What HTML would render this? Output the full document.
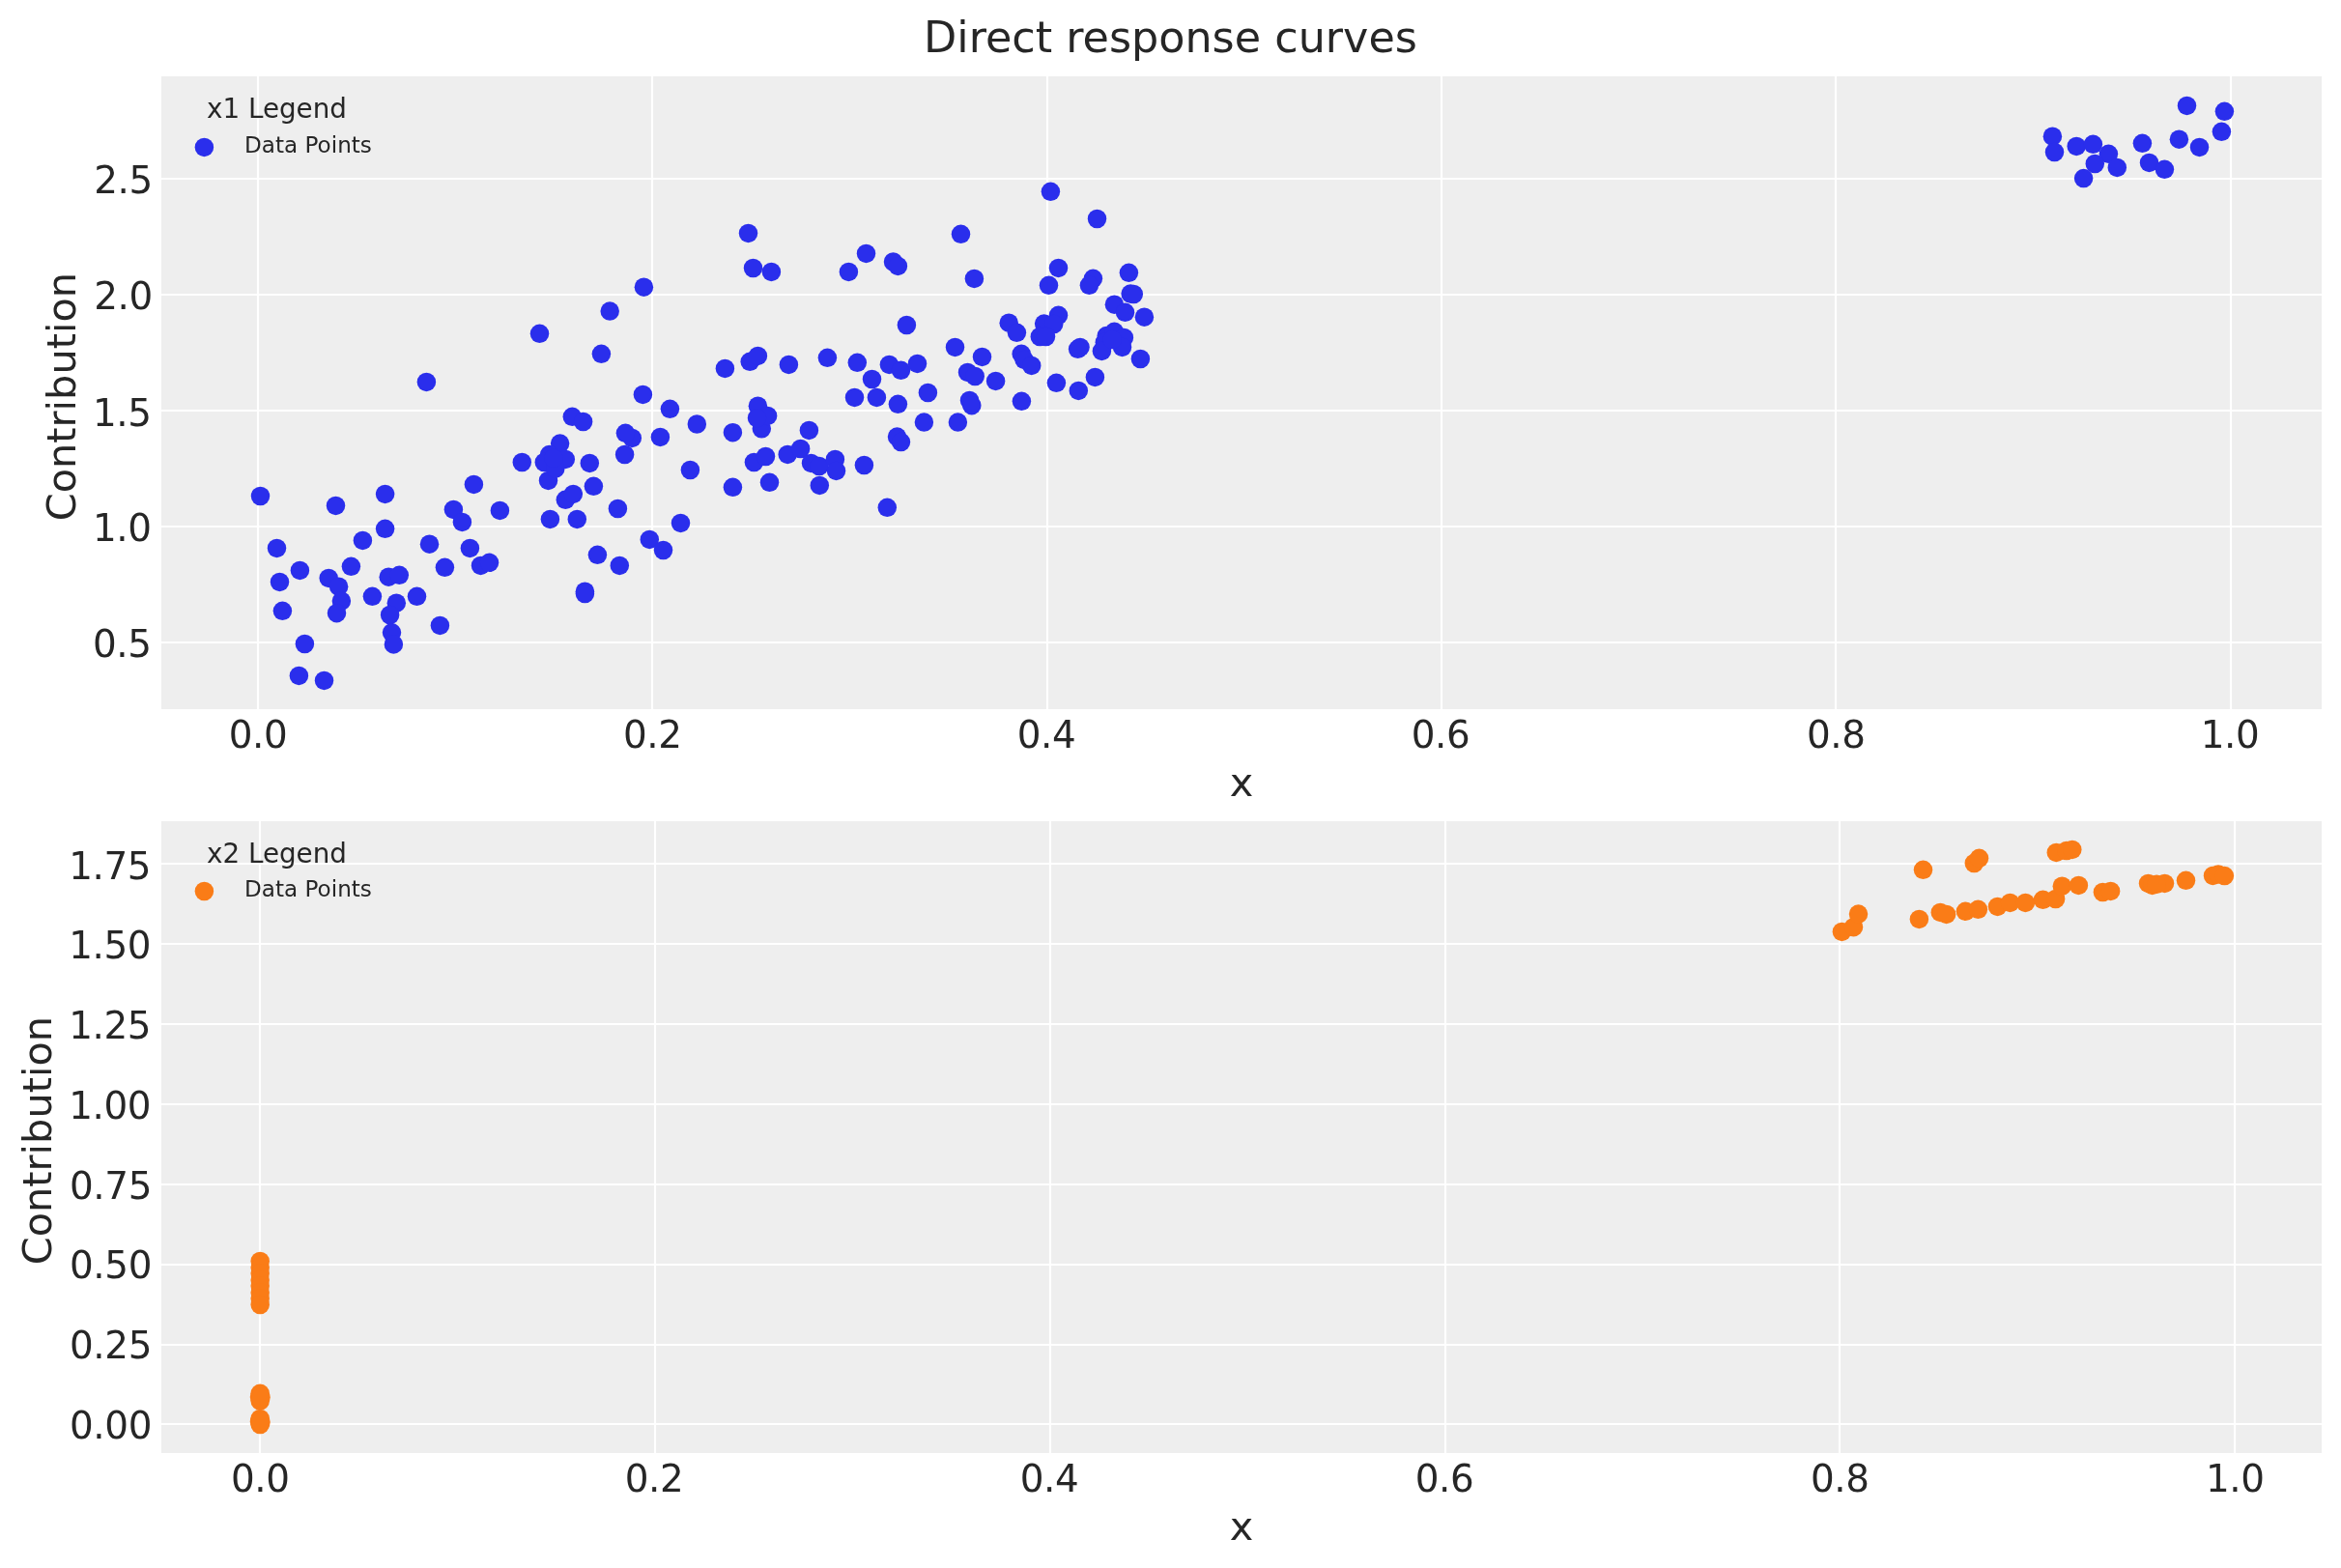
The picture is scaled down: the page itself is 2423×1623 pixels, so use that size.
<!DOCTYPE html>
<html lang="en"><head><meta charset="utf-8"><title>Direct response curves</title>
<style>html,body{margin:0;padding:0;background:#fff}svg{display:block;will-change:transform}text{font-family:"DejaVu Sans","Liberation Sans",sans-serif;fill:#262626}.t{font-size:38.89px;letter-spacing:-0.4px}.l{font-size:41.45px}.g{stroke:#fff;stroke-width:2.2;fill:none}</style></head><body>
<svg width="2423" height="1623" viewBox="0 0 2423 1623">
<rect width="2423" height="1623" fill="#fff"/>
<text x="1211.5" y="54.0" text-anchor="middle" font-size="44.44">Direct response curves</text>
<rect x="167" y="79" width="2236" height="655" fill="#eeeeee"/>
<path class="g" d="M267 79V734M675 79V734M1084 79V734M1492 79V734M1900 79V734M2309 79V734M167 665H2403M167 545H2403M167 425H2403M167 305H2403M167 185H2403"/>
<g fill="#2a2eec">
<circle cx="269.5" cy="513.5" r="9.75"/>
<circle cx="347.5" cy="523.4" r="9.75"/>
<circle cx="398.6" cy="511.4" r="9.75"/>
<circle cx="398.6" cy="547.3" r="9.75"/>
<circle cx="375.4" cy="559.4" r="9.75"/>
<circle cx="286.5" cy="567.4" r="9.75"/>
<circle cx="310.4" cy="590.4" r="9.75"/>
<circle cx="289.5" cy="602.4" r="9.75"/>
<circle cx="292.4" cy="632.3" r="9.75"/>
<circle cx="363.4" cy="586.3" r="9.75"/>
<circle cx="340.2" cy="598.4" r="9.75"/>
<circle cx="350.6" cy="607.2" r="9.75"/>
<circle cx="353.4" cy="622.1" r="9.75"/>
<circle cx="348.5" cy="634.7" r="9.75"/>
<circle cx="385.4" cy="617.3" r="9.75"/>
<circle cx="402.2" cy="597.2" r="9.75"/>
<circle cx="413.3" cy="595.3" r="9.75"/>
<circle cx="410.3" cy="624.2" r="9.75"/>
<circle cx="403.6" cy="636.5" r="9.75"/>
<circle cx="405.5" cy="654.8" r="9.75"/>
<circle cx="407.4" cy="666.9" r="9.75"/>
<circle cx="431.5" cy="617.3" r="9.75"/>
<circle cx="444.5" cy="563.2" r="9.75"/>
<circle cx="460.4" cy="587.3" r="9.75"/>
<circle cx="455.4" cy="647.4" r="9.75"/>
<circle cx="469.4" cy="527.4" r="9.75"/>
<circle cx="478.4" cy="540.4" r="9.75"/>
<circle cx="486.4" cy="567.4" r="9.75"/>
<circle cx="497.5" cy="585.4" r="9.75"/>
<circle cx="506.5" cy="582.3" r="9.75"/>
<circle cx="490.4" cy="501.4" r="9.75"/>
<circle cx="517.4" cy="528.4" r="9.75"/>
<circle cx="540.3" cy="478.5" r="9.75"/>
<circle cx="569.4" cy="537.4" r="9.75"/>
<circle cx="597.3" cy="537.4" r="9.75"/>
<circle cx="585.3" cy="517.3" r="9.75"/>
<circle cx="593.3" cy="511.4" r="9.75"/>
<circle cx="614.4" cy="503.3" r="9.75"/>
<circle cx="610.3" cy="479.4" r="9.75"/>
<circle cx="567.5" cy="497.4" r="9.75"/>
<circle cx="579.6" cy="459.1" r="9.75"/>
<circle cx="568.6" cy="470.6" r="9.75"/>
<circle cx="563.3" cy="478.5" r="9.75"/>
<circle cx="585.3" cy="475.4" r="9.75"/>
<circle cx="574.8" cy="485.0" r="9.75"/>
<circle cx="618.4" cy="574.3" r="9.75"/>
<circle cx="605.4" cy="612.2" r="9.75"/>
<circle cx="605.4" cy="614.5" r="9.75"/>
<circle cx="315.4" cy="666.5" r="9.75"/>
<circle cx="309.4" cy="699.4" r="9.75"/>
<circle cx="335.5" cy="704.4" r="9.75"/>
<circle cx="654.3" cy="453.4" r="9.75"/>
<circle cx="683.4" cy="452.4" r="9.75"/>
<circle cx="758.4" cy="447.7" r="9.75"/>
<circle cx="788.3" cy="443.8" r="9.75"/>
<circle cx="837.4" cy="445.4" r="9.75"/>
<circle cx="714.4" cy="486.5" r="9.75"/>
<circle cx="780.4" cy="478.5" r="9.75"/>
<circle cx="792.5" cy="472.5" r="9.75"/>
<circle cx="815.2" cy="470.4" r="9.75"/>
<circle cx="828.6" cy="464.5" r="9.75"/>
<circle cx="839.5" cy="479.4" r="9.75"/>
<circle cx="847.9" cy="482.5" r="9.75"/>
<circle cx="864.4" cy="475.4" r="9.75"/>
<circle cx="865.5" cy="487.4" r="9.75"/>
<circle cx="894.4" cy="481.5" r="9.75"/>
<circle cx="758.4" cy="504.3" r="9.75"/>
<circle cx="796.5" cy="499.3" r="9.75"/>
<circle cx="848.3" cy="502.4" r="9.75"/>
<circle cx="918.3" cy="525.3" r="9.75"/>
<circle cx="928.5" cy="452.1" r="9.75"/>
<circle cx="932.5" cy="457.6" r="9.75"/>
<circle cx="639.4" cy="526.5" r="9.75"/>
<circle cx="704.5" cy="541.4" r="9.75"/>
<circle cx="672.3" cy="558.4" r="9.75"/>
<circle cx="686.5" cy="569.5" r="9.75"/>
<circle cx="641.3" cy="585.4" r="9.75"/>
<circle cx="441.4" cy="395.4" r="9.75"/>
<circle cx="558.5" cy="345.3" r="9.75"/>
<circle cx="622.4" cy="366.3" r="9.75"/>
<circle cx="631.2" cy="322.1" r="9.75"/>
<circle cx="774.5" cy="241.4" r="9.75"/>
<circle cx="779.5" cy="277.5" r="9.75"/>
<circle cx="798.4" cy="281.4" r="9.75"/>
<circle cx="666.4" cy="297.2" r="9.75"/>
<circle cx="878.4" cy="281.4" r="9.75"/>
<circle cx="896.5" cy="262.4" r="9.75"/>
<circle cx="924.5" cy="271.0" r="9.75"/>
<circle cx="929.4" cy="275.4" r="9.75"/>
<circle cx="994.5" cy="242.3" r="9.75"/>
<circle cx="1008.4" cy="288.4" r="9.75"/>
<circle cx="938.4" cy="336.5" r="9.75"/>
<circle cx="750.4" cy="381.4" r="9.75"/>
<circle cx="776.2" cy="374.3" r="9.75"/>
<circle cx="784.4" cy="368.4" r="9.75"/>
<circle cx="816.4" cy="377.4" r="9.75"/>
<circle cx="856.4" cy="370.3" r="9.75"/>
<circle cx="887.3" cy="375.3" r="9.75"/>
<circle cx="902.5" cy="392.5" r="9.75"/>
<circle cx="920.4" cy="377.4" r="9.75"/>
<circle cx="932.5" cy="383.3" r="9.75"/>
<circle cx="949.5" cy="376.4" r="9.75"/>
<circle cx="988.5" cy="359.4" r="9.75"/>
<circle cx="1016.5" cy="369.4" r="9.75"/>
<circle cx="1001.5" cy="385.4" r="9.75"/>
<circle cx="1009.2" cy="389.5" r="9.75"/>
<circle cx="1030.6" cy="394.4" r="9.75"/>
<circle cx="665.4" cy="408.4" r="9.75"/>
<circle cx="693.4" cy="423.3" r="9.75"/>
<circle cx="884.5" cy="411.4" r="9.75"/>
<circle cx="907.4" cy="411.4" r="9.75"/>
<circle cx="929.4" cy="418.3" r="9.75"/>
<circle cx="960.4" cy="406.5" r="9.75"/>
<circle cx="1003.5" cy="414.5" r="9.75"/>
<circle cx="1005.8" cy="419.7" r="9.75"/>
<circle cx="784.4" cy="420.2" r="9.75"/>
<circle cx="794.6" cy="430.4" r="9.75"/>
<circle cx="783.5" cy="432.7" r="9.75"/>
<circle cx="721.3" cy="439.0" r="9.75"/>
<circle cx="956.4" cy="437.1" r="9.75"/>
<circle cx="991.4" cy="437.1" r="9.75"/>
<circle cx="1087.4" cy="198.3" r="9.75"/>
<circle cx="1135.5" cy="226.5" r="9.75"/>
<circle cx="1095.5" cy="277.4" r="9.75"/>
<circle cx="1085.5" cy="295.3" r="9.75"/>
<circle cx="1131.4" cy="288.3" r="9.75"/>
<circle cx="1127.4" cy="295.3" r="9.75"/>
<circle cx="1168.4" cy="282.3" r="9.75"/>
<circle cx="1170.1" cy="304.1" r="9.75"/>
<circle cx="1173.3" cy="304.5" r="9.75"/>
<circle cx="1153.4" cy="315.2" r="9.75"/>
<circle cx="1164.5" cy="323.3" r="9.75"/>
<circle cx="1184.4" cy="328.2" r="9.75"/>
<circle cx="1095.5" cy="326.3" r="9.75"/>
<circle cx="1080.6" cy="335.1" r="9.75"/>
<circle cx="1090.7" cy="335.5" r="9.75"/>
<circle cx="1076.3" cy="348.5" r="9.75"/>
<circle cx="1082.5" cy="348.5" r="9.75"/>
<circle cx="1044.2" cy="334.2" r="9.75"/>
<circle cx="1052.4" cy="344.3" r="9.75"/>
<circle cx="1057.2" cy="366.3" r="9.75"/>
<circle cx="1060.1" cy="372.4" r="9.75"/>
<circle cx="1067.7" cy="378.4" r="9.75"/>
<circle cx="1118.0" cy="359.4" r="9.75"/>
<circle cx="1115.6" cy="361.3" r="9.75"/>
<circle cx="1145.2" cy="347.6" r="9.75"/>
<circle cx="1153.4" cy="343.3" r="9.75"/>
<circle cx="1163.4" cy="349.5" r="9.75"/>
<circle cx="1143.3" cy="354.3" r="9.75"/>
<circle cx="1140.4" cy="363.4" r="9.75"/>
<circle cx="1161.5" cy="359.4" r="9.75"/>
<circle cx="1180.4" cy="371.5" r="9.75"/>
<circle cx="1133.4" cy="390.4" r="9.75"/>
<circle cx="1093.4" cy="396.3" r="9.75"/>
<circle cx="1116.3" cy="404.4" r="9.75"/>
<circle cx="1057.4" cy="415.3" r="9.75"/>
<circle cx="647.4" cy="448.3" r="9.75"/>
<circle cx="646.6" cy="470.5" r="9.75"/>
<circle cx="592.3" cy="431.3" r="9.75"/>
<circle cx="603.6" cy="436.5" r="9.75"/>
<circle cx="573.0" cy="474.3" r="9.75"/>
<circle cx="1151.2" cy="351.6" r="9.75"/>
<circle cx="2124.4" cy="141.2" r="9.75"/>
<circle cx="2126.5" cy="157.5" r="9.75"/>
<circle cx="2149.2" cy="151.4" r="9.75"/>
<circle cx="2166.4" cy="149.3" r="9.75"/>
<circle cx="2182.4" cy="159.3" r="9.75"/>
<circle cx="2168.3" cy="169.5" r="9.75"/>
<circle cx="2191.3" cy="173.4" r="9.75"/>
<circle cx="2156.6" cy="184.6" r="9.75"/>
<circle cx="2217.4" cy="148.3" r="9.75"/>
<circle cx="2224.5" cy="168.4" r="9.75"/>
<circle cx="2240.4" cy="175.3" r="9.75"/>
<circle cx="2255.4" cy="144.2" r="9.75"/>
<circle cx="2276.5" cy="152.4" r="9.75"/>
<circle cx="2263.5" cy="109.4" r="9.75"/>
<circle cx="2302.4" cy="115.3" r="9.75"/>
<circle cx="2299.4" cy="136.3" r="9.75"/>
</g>
<text x="214.0" y="122.1" font-size="27.78">x1 Legend</text>
<circle cx="211.4" cy="152.4" r="9.75" fill="#2a2eec"/>
<text x="253.0" y="158.0" font-size="23.1">Data Points</text>
<g class="t" text-anchor="end">
<text x="156.5" y="680.0">0.5</text>
<text x="156.6" y="560.0">1.0</text>
<text x="156.6" y="441.0">1.5</text>
<text x="157.9" y="320.0">2.0</text>
<text x="157.9" y="200.0">2.5</text>
</g><g class="t" text-anchor="middle">
<text x="267.1" y="774.0">0.0</text>
<text x="675.3" y="774.0">0.2</text>
<text x="1083.1" y="774.0">0.4</text>
<text x="1491.1" y="774.0">0.6</text>
<text x="1900.2" y="774.0">0.8</text>
<text x="2308.1" y="774.0">1.0</text>
</g>
<text class="l" x="1285" y="824.0" text-anchor="middle">x</text>
<text class="l" transform="translate(77.8 410.6) rotate(-90)" text-anchor="middle">Contribution</text>
<rect x="167" y="850" width="2236" height="654" fill="#eeeeee"/>
<path class="g" d="M269 850V1504M678 850V1504M1087 850V1504M1496 850V1504M1904 850V1504M2313 850V1504M167 1474H2403M167 1392H2403M167 1309H2403M167 1226H2403M167 1143H2403M167 1060H2403M167 977H2403M167 894H2403"/>
<g fill="#fa7c17">
<circle cx="1906.4" cy="964.4" r="9.75"/>
<circle cx="1918.5" cy="959.7" r="9.75"/>
<circle cx="1923.5" cy="946.1" r="9.75"/>
<circle cx="1990.5" cy="900.3" r="9.75"/>
<circle cx="1986.4" cy="951.4" r="9.75"/>
<circle cx="2008.3" cy="944.4" r="9.75"/>
<circle cx="2014.6" cy="946.4" r="9.75"/>
<circle cx="2034.4" cy="943.3" r="9.75"/>
<circle cx="2047.4" cy="941.3" r="9.75"/>
<circle cx="2067.5" cy="938.4" r="9.75"/>
<circle cx="2080.5" cy="934.4" r="9.75"/>
<circle cx="2096.4" cy="934.4" r="9.75"/>
<circle cx="2114.5" cy="931.3" r="9.75"/>
<circle cx="2127.6" cy="930.5" r="9.75"/>
<circle cx="2134.3" cy="917.2" r="9.75"/>
<circle cx="2043.3" cy="893.5" r="9.75"/>
<circle cx="2048.5" cy="888.3" r="9.75"/>
<circle cx="2128.3" cy="882.4" r="9.75"/>
<circle cx="2138.9" cy="880.5" r="9.75"/>
<circle cx="2144.8" cy="879.4" r="9.75"/>
<circle cx="2151.4" cy="916.4" r="9.75"/>
<circle cx="2176.4" cy="923.5" r="9.75"/>
<circle cx="2184.6" cy="922.4" r="9.75"/>
<circle cx="2223.5" cy="914.4" r="9.75"/>
<circle cx="2227.7" cy="916.4" r="9.75"/>
<circle cx="2240.5" cy="914.4" r="9.75"/>
<circle cx="2262.5" cy="911.3" r="9.75"/>
<circle cx="2290.5" cy="906.4" r="9.75"/>
<circle cx="2296.0" cy="905.0" r="9.75"/>
<circle cx="2302.4" cy="906.6" r="9.75"/>
<circle cx="269.2" cy="1305.5" r="9.75"/>
<circle cx="269.2" cy="1312.0" r="9.75"/>
<circle cx="269.2" cy="1318.0" r="9.75"/>
<circle cx="269.2" cy="1325.0" r="9.75"/>
<circle cx="269.2" cy="1331.0" r="9.75"/>
<circle cx="269.2" cy="1338.0" r="9.75"/>
<circle cx="269.2" cy="1344.0" r="9.75"/>
<circle cx="269.2" cy="1350.5" r="9.75"/>
<circle cx="269.2" cy="1442.3" r="9.75"/>
<circle cx="269.2" cy="1450.0" r="9.75"/>
<circle cx="269.2" cy="1468.5" r="9.75"/>
<circle cx="269.2" cy="1474.5" r="9.75"/>
<circle cx="268.5" cy="1446.0" r="9.75"/>
<circle cx="270.0" cy="1446.5" r="9.75"/>
<circle cx="268.5" cy="1471.5" r="9.75"/>
<circle cx="270.0" cy="1472.0" r="9.75"/>
<circle cx="2232.2" cy="915.3" r="9.75"/>
</g>
<text x="214.0" y="892.5" font-size="27.78">x2 Legend</text>
<circle cx="211.4" cy="922.5" r="9.75" fill="#fa7c17"/>
<text x="253.0" y="928.2" font-size="23.1">Data Points</text>
<g class="t" text-anchor="end">
<text x="157.0" y="1489.0">0.00</text>
<text x="157.0" y="1406.0">0.25</text>
<text x="157.0" y="1323.0">0.50</text>
<text x="157.0" y="1241.0">0.75</text>
<text x="156.1" y="1158.0">1.00</text>
<text x="156.1" y="1075.0">1.25</text>
<text x="156.1" y="992.0">1.50</text>
<text x="156.1" y="910.0">1.75</text>
</g><g class="t" text-anchor="middle">
<text x="269.3" y="1544.0">0.0</text>
<text x="677.1" y="1544.0">0.2</text>
<text x="1086.1" y="1544.0">0.4</text>
<text x="1495.1" y="1544.0">0.6</text>
<text x="1904.3" y="1544.0">0.8</text>
<text x="2313.3" y="1544.0">1.0</text>
</g>
<text class="l" x="1285" y="1594.0" text-anchor="middle">x</text>
<text class="l" transform="translate(52.9 1180.6) rotate(-90)" text-anchor="middle">Contribution</text>
</svg></body></html>
